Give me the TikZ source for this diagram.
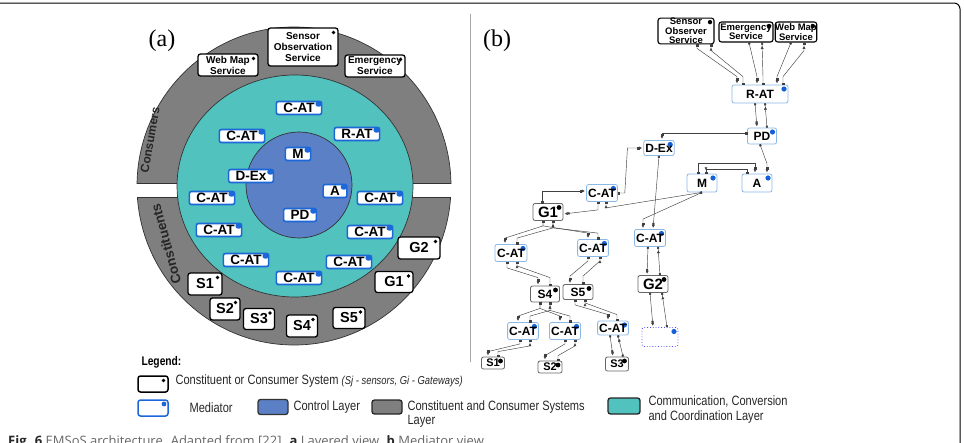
\documentclass[tikz,border=0pt]{standalone}
\usepackage{fontspec}
\setmainfont{Liberation Sans}
\newfontfamily\labelfont{Liberation Serif}
\newfontfamily\narrowfont[FakeStretch=0.82]{Liberation Sans}
\newfontfamily\captionfont{Open Sans}
\usetikzlibrary{arrows.meta}
\definecolor{bandgray}{HTML}{7F7F7F}
\definecolor{ccclayer}{HTML}{52C2BF}
\definecolor{ctrlblue}{HTML}{5B80C6}
\definecolor{medblue}{HTML}{1C68D8}
\definecolor{medlight}{HTML}{8CB8E6}
\definecolor{dotblue}{HTML}{1560D6}

\begin{document}
\begin{tikzpicture}[x=1pt, y=-1pt,
  sys/.style={draw=black, line width=1.3pt, fill=white, rounded corners=2.5pt,
              inner sep=0pt, minimum width=31, minimum height=22, align=center,
              font=\fontsize{14.5}{15}\bfseries,
              path picture={\fill[black] ([xshift=-4.5pt,yshift=-4.5pt]path picture bounding box.north east) circle (1.9pt);}},
  med/.style={draw=medblue, line width=1.6pt, fill=white, rounded corners=2pt,
              inner xsep=7pt, inner ysep=0pt, minimum height=13,
              font=\fontsize{13.5}{14}\bfseries,
              path picture={\fill[medblue] ([xshift=-6pt,yshift=-5pt]path picture bounding box.north east) rectangle (path picture bounding box.north east);}},
  bmed/.style={draw=medlight, line width=0.8pt, fill=white, rounded corners=2pt,
               inner xsep=1.5pt, inner ysep=0pt, minimum width=30, minimum height=17,
               font=\fontsize{12}{12}\bfseries,
               path picture={\fill[dotblue] ([xshift=-4pt,yshift=-4pt]path picture bounding box.north east) circle (2.6pt);}},
  bsys/.style={draw=black!60, line width=0.8pt, fill=white, rounded corners=2pt,
               inner sep=0pt, minimum width=29, minimum height=16,
               font=\fontsize{12}{12}\bfseries,
               path picture={\fill[black] ([xshift=-4pt,yshift=-4pt]path picture bounding box.north east) circle (2.4pt);}},
  bsrv/.style={draw=black, line width=1.1pt, fill=white, rounded corners=2.5pt,
               inner sep=0pt, align=center, font=\fontsize{9.5}{9.5}\bfseries,
               path picture={\fill[black] ([xshift=-4pt,yshift=-4pt]path picture bounding box.north east) circle (2.2pt);}},
  link/.style={draw=black!75, line width=0.45pt,
               {Square[length=2pt,width=2pt]}-{Square[length=2pt,width=2pt] Triangle[length=2.8pt,width=2.8pt,sep=1.5pt]}},
  linkr/.style={draw=black!75, line width=0.45pt,
               {Square[length=2pt,width=2pt] Triangle[length=2.8pt,width=2.8pt,sep=1.5pt]}-{Square[length=2pt,width=2pt]}},
  band/.style={draw=black!80, line width=0.7pt, fill=bandgray},
  key/.style={text=black!85, font=\fontsize{13.5}{14.5}\narrowfont, align=left},
]
\useasboundingbox (0,0) rectangle (964,442);
% frame and divider
\draw[line width=1pt, rounded corners=6pt] (0,3) -- (960,3) -- (960,450);
\draw[black!35, line width=0.8pt] (470,14) -- (470,362);

% (a) layered view
\begin{scope}
  \clip (120,10) rectangle (470,183);
  \draw[band] (294,186) ellipse [x radius=157, y radius=159];
\end{scope}
\begin{scope}
  \clip (120,197) rectangle (470,360);
  \draw[band] (294,186) ellipse [x radius=157, y radius=159];
\end{scope}
\draw[black!80, line width=0.7pt] (137,183) -- (200,183) (390,183) -- (451,183)
  (137,197) -- (200,197) (390,197) -- (451,197);
\draw[black!80, line width=0.7pt, fill=ccclayer] (295,186) ellipse [x radius=118, y radius=111];
\draw[black!80, line width=0.7pt, fill=ctrlblue] (299,185) circle (53);

\node[font=\fontsize{12}{12}\bfseries, text=black!85, rotate=80] (consumers) at (150,140) {Consumers};
\node[font=\fontsize{13.5}{14}\bfseries, text=black!85, rotate=105] (constituents) at (166,244) {Constituents};

% consumer systems
\node[sys, minimum width=60, font=\fontsize{10}{11}\bfseries] (aWMS) at (228,65) {Web Map\\Service};
\node[sys, minimum width=70, minimum height=38, font=\fontsize{10}{11}\bfseries] (aSOS) at (303,47) {Sensor\\Observation\\Service};
\node[sys, minimum width=60, font=\fontsize{10}{11}\bfseries] (aES) at (375,66) {Emergency\\Service};

% mediators
\node[med] (aCATa) at (299,108) {C-AT};
\node[med] (aCATb) at (242,136) {C-AT};
\node[med] (aRAT)  at (357,134) {R-AT};
\node[med] (aM)    at (298,154) {M};
\node[med] (aDEx)  at (251,176) {D-Ex};
\node[med] (aA)    at (335,191) {A};
\node[med] (aCATc) at (380,198) {C-AT};
\node[med] (aCATd) at (212,198) {C-AT};
\node[med] (aPD)   at (300,215) {PD};
\node[med] (aCATe) at (219,230) {C-AT};
\node[med] (aCATf) at (370,232) {C-AT};
\node[med] (aCATg) at (246,260) {C-AT};
\node[med] (aCATh) at (349,262) {C-AT};
\node[med] (aCATi) at (299,278) {C-AT};

% constituent systems
\node[sys, minimum width=42] (aGtwo) at (419,248) {G2};
\node[sys, minimum width=38, minimum height=21] (aGone) at (394,282) {G1};
\node[sys, minimum width=34] (aSone) at (205,284) {S1};
\node[sys, minimum width=30] (aStwo) at (225,309) {S2};
\node[sys, minimum height=21] (aSthree) at (259,319) {S3};
\node[sys] (aSfour) at (302,326) {S4};
\node[sys, minimum width=32, minimum height=21] (aSfive) at (349,318) {S5};

\node[font=\fontsize{24}{24}\labelfont] (labA) at (162,41) {(a)};
\node[font=\fontsize{24}{24}\labelfont] (labB) at (497,41) {(b)};

% (b) mediator view
\node[bsrv, minimum width=56, minimum height=25] (bSOS) at (686,31) {Sensor\\Observer\\Service};
\node[bsrv, minimum width=54, minimum height=20] (bES)  at (746,32) {Emergency\\Service};
\node[bsrv, minimum width=40, minimum height=20] (bWMS) at (796,32) {Web Map\\Service};

\node[bmed, minimum width=56, minimum height=18] (bRAT) at (760,94) {R-AT};
\node[bmed, minimum width=29, minimum height=16] (bPD)  at (762,136) {PD};
\node[bmed, minimum height=15] (bDEx) at (659,148) {D-Ex};
\node[bmed, minimum height=18] (bM)   at (702,183) {M};
\node[bmed, minimum height=18] (bA)   at (757,183) {A};
\node[bmed] (bCATa) at (602,193) {C-AT};
\node[bsys, minimum width=30, minimum height=17, font=\fontsize{15}{15}\bfseries] (bGone) at (548,212) {G1};
\node[bmed, minimum width=32] (bCATb) at (511,253) {C-AT};
\node[bmed] (bCATc) at (593,248) {C-AT};
\node[bmed, minimum width=31] (bCATd) at (650,238) {C-AT};
\node[bsys] (bSfour) at (545,294) {S4};
\node[bsys, minimum width=30, minimum height=15] (bSfive) at (578,292) {S5};
\node[bsys, minimum width=30, minimum height=17, font=\fontsize{15}{15}\bfseries] (bGtwo) at (653,284) {G2};
\node[bmed] (bCATe) at (523,331) {C-AT};
\node[bmed, minimum width=31] (bCATf) at (565,331) {C-AT};
\node[bmed, minimum width=28, minimum height=14] (bCATg) at (613,328) {C-AT};
\node[bmed, draw=blue!70, dotted, minimum width=36, minimum height=19] (bEmpty) at (660,337) {};
\node[bsys, minimum width=23, minimum height=12, font=\fontsize{11}{11}\bfseries] (bSone)   at (493,363) {S1};
\node[bsys, minimum width=24, minimum height=12, font=\fontsize{11}{11}\bfseries] (bStwo)   at (550,367) {S2};
\node[bsys, minimum width=23, minimum height=14, font=\fontsize{11}{11}\bfseries] (bSthree) at (617,364) {S3};

% services to R-AT
\draw[link]  ([xshift=11]bSOS.south) -- ++(0,4) -- ([xshift=-23,yshift=8]bRAT.north) -- ([xshift=-23]bRAT.north);
\draw[linkr] ([xshift=25]bSOS.south) -- ++(0,6) -- ([xshift=-17,yshift=8]bRAT.north) -- ([xshift=-17]bRAT.north);
\draw[link]  ([xshift=3]bES.south) -- ([xshift=-3,yshift=8]bRAT.north) -- ([xshift=-3]bRAT.north);
\draw[linkr] ([xshift=16]bES.south) -- ([xshift=3,yshift=8]bRAT.north) -- ([xshift=3]bRAT.north);
\draw[link]  ([xshift=-5]bWMS.south) -- ([xshift=17,yshift=8]bRAT.north) -- ([xshift=17]bRAT.north);
\draw[linkr] ([xshift=8]bWMS.south) -- ++(0,8) -- ([xshift=23,yshift=8]bRAT.north) -- ([xshift=23]bRAT.north);
% R-AT to PD
\draw[link]  ([xshift=-5]bRAT.south) -- ([xshift=-5]bPD.north);
\draw[linkr] ([xshift=5]bRAT.south) -- ([xshift=5]bPD.north);
% PD to D-Ex and A
\draw[link] ([yshift=3]bPD.west) -| ([xshift=3]bDEx.north);
\draw[link] ([xshift=-2]bPD.south) -- ([xshift=10,yshift=10]bA.north) -- ([xshift=10]bA.north);
% M and A
\draw[link]  ([xshift=-4]bM.north) -- ++(0,-10) -| ([xshift=-2]bA.north);
\draw[linkr] ([xshift=4]bM.north) -- ++(0,-4) -| ([xshift=-10]bA.north);
% M, C-AT, D-Ex and G1
\draw[link]  ([xshift=-4]bCATa.south) -- ++(0,8) -- ([yshift=-2]bGone.east);
\draw[linkr] ([xshift=4]bCATa.south) -- ++(0,6) -- (bM.south);
\draw[link]  (bM.south) -- ([xshift=-7,yshift=10]bCATd.north) -- ([xshift=-7]bCATd.north);
\draw[link]  ([xshift=-6]bGone.north) |- ([yshift=2]bCATa.west);
\draw[link]  (bCATa.east) -- ++(7,0) -- ([xshift=-16]bDEx.west) -- (bDEx.west);
\draw[link]  (bDEx.south) -- ([xshift=3]bCATd.north);
% G1 to C-ATs
\draw[link]  ([xshift=-5]bGone.south) -- ++(0,5) -- ([xshift=-6,yshift=6]bCATb.north) -- ([xshift=-6]bCATb.north);
\draw[linkr] ([xshift=5]bGone.south) -- ++(0,7) -- ([xshift=6,yshift=6]bCATb.north) -- ([xshift=6]bCATb.north);
\draw[link]  ([xshift=-5]bGone.south) -- ++(0,5) -- ([xshift=-5,yshift=6]bCATc.north) -- ([xshift=-5]bCATc.north);
\draw[linkr] ([xshift=5]bGone.south) -- ++(0,7) -- ([xshift=5,yshift=6]bCATc.north) -- ([xshift=5]bCATc.north);
% C-ATs to S4, S5
\draw[link]  ([xshift=-4]bCATb.south) -- ++(0,6) -- ([xshift=-7,yshift=8]bSfour.north) -- ([xshift=-7]bSfour.north);
\draw[linkr] ([xshift=6]bCATb.south) -- ++(0,4) -- ([xshift=5,yshift=8]bSfour.north) -- ([xshift=5]bSfour.north);
\draw[link]  ([xshift=-5]bCATc.south) -- ++(0,4) -- ([xshift=-8,yshift=8]bSfive.north) -- ([xshift=-8]bSfive.north);
\draw[linkr] ([xshift=7]bCATc.south) -- ++(0,4) -- ([xshift=5,yshift=8]bSfive.north) -- ([xshift=5]bSfive.north);
% S4, S5 to C-ATs
\draw[link]  ([xshift=-5]bSfour.south) -- ++(0,6) -- ([xshift=-5,yshift=6]bCATe.north) -- ([xshift=-5]bCATe.north);
\draw[linkr] ([xshift=5]bSfour.south) -- ++(0,8) -- ([xshift=7,yshift=6]bCATe.north) -- ([xshift=7]bCATe.north);
\draw[link]  ([xshift=-5]bSfour.south) -- ++(0,6) -- ([xshift=-5,yshift=6]bCATf.north) -- ([xshift=-5]bCATf.north);
\draw[linkr] ([xshift=5]bSfour.south) -- ++(0,8) -- ([xshift=5,yshift=6]bCATf.north) -- ([xshift=5]bCATf.north);
\draw[link]  ([xshift=-3]bSfive.south) -- ++(0,5) -- ([xshift=-5,yshift=6]bCATg.north) -- ([xshift=-5]bCATg.north);
\draw[linkr] ([xshift=7]bSfive.south) -- ++(0,3) -- ([xshift=4,yshift=6]bCATg.north) -- ([xshift=4]bCATg.north);
% C-ATs to sensors
\draw[link]  ([xshift=-3]bCATe.south) -- ++(0,4) -- ([xshift=-5,yshift=5]bSone.north) -- ([xshift=-5]bSone.north);
\draw[linkr] ([xshift=7]bCATe.south) -- ++(0,6) -- ([xshift=5,yshift=5]bSone.north) -- ([xshift=5]bSone.north);
\draw[link]  (bCATf.south) -- ++(0,4) -- ([xshift=-5,yshift=5]bStwo.north) -- ([xshift=-5]bStwo.north);
\draw[linkr] ([xshift=10]bCATf.south) -- ++(0,6) -- ([xshift=8,yshift=5]bStwo.north) -- ([xshift=8]bStwo.north);
\draw[link]  ([xshift=-3]bCATg.south) -- ([xshift=-4]bSthree.north);
\draw[linkr] ([xshift=5]bCATg.south) -- ([xshift=6]bSthree.north);
% C-AT, G2 and the open slot
\draw[link]  ([xshift=-2]bCATd.south) -- ([xshift=-6]bGtwo.north);
\draw[linkr] ([xshift=8]bCATd.south) -- ([xshift=7]bGtwo.north);
\draw[link]  ([xshift=-3]bGtwo.south) -- ([xshift=-7]bEmpty.north);
\draw[linkr] ([xshift=9]bGtwo.south) -- ([xshift=7]bEmpty.north);

% legend
\node[anchor=west, font=\fontsize{12.5}{13}\narrowfont\bfseries] (legend) at (138,362) {Legend:};
\node[sys, minimum width=30, minimum height=16, line width=1.5pt] (keysys) at (153,384) {};
\node[key, anchor=west] (keysystxt) at (172,381) {Constituent or Consumer System {\fontsize{11.5}{12}\itshape (Sj - sensors, Gi - Gateways)}};
\node[draw=medblue, line width=1.5pt, fill=white, rounded corners=2.5pt, minimum width=30, minimum height=16, inner sep=0pt,
      path picture={\fill[medblue] ([xshift=-4pt,yshift=-4pt]path picture bounding box.north east) circle (2.4pt);}] (keymed) at (153,408) {};
\node[key, anchor=west] (keymedtxt) at (186,408) {Mediator};
\node[draw=black!80, line width=1.3pt, fill=ctrlblue, rounded corners=2.5pt, minimum width=30, minimum height=15, inner sep=0pt] (keyctrl) at (273,407) {};
\node[key, anchor=west] (keyctrltxt) at (290,407) {Control Layer};
\node[draw=black!85, line width=1.3pt, fill=bandgray, rounded corners=2.5pt, minimum width=30, minimum height=14, inner sep=0pt] (keyband) at (387,407) {};
\node[key, anchor=west] (keybandtxt) at (404,414) {Constituent and Consumer Systems\\Layer};
\node[draw=black!85, line width=1.3pt, fill=ccclayer, rounded corners=2.5pt, minimum width=32, minimum height=16, inner sep=0pt] (keyccc) at (624,406) {};
\node[key, anchor=west] (keyccctxt) at (645,409.5) {Communication, Conversion\\and Coordination Layer};

% caption, cut by the page edge
\node[anchor=base west, inner sep=0pt, text=black!60, font=\fontsize{13}{13}\captionfont] (caption) at (8,445)
  {\textcolor{black!85}{\bfseries Fig. 6} EMSoS architecture. Adapted from [22]. \textcolor{black!85}{\bfseries a} Layered view. \textcolor{black!85}{\bfseries b} Mediator view};
\end{tikzpicture}
\end{document}
